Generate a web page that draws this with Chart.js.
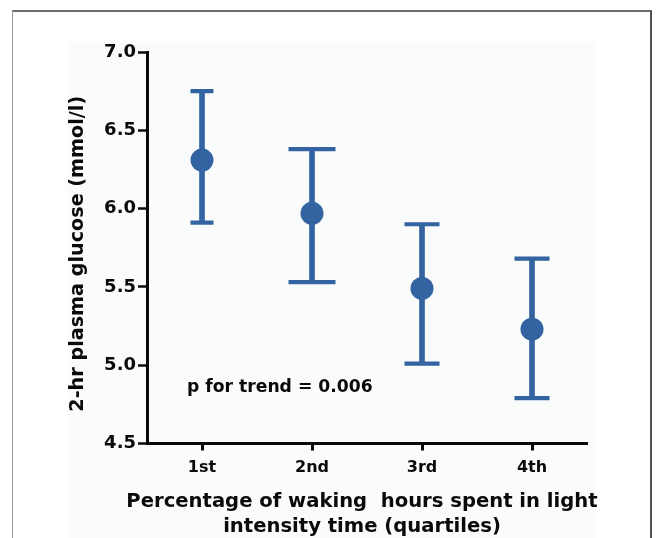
<!DOCTYPE html>
<html>
<head>
<meta charset="utf-8">
<script src="https://cdn.jsdelivr.net/npm/chart.js@4"></script>
<style>
  html, body { margin: 0; padding: 0; background: #fff; }
  #wrap { position: relative; width: 656px; height: 538px; overflow: hidden; }
  #panel { position: absolute; left: 67px; top: 42px; width: 529px; height: 500px; background: #fafbfb; }
  #frame { position: absolute; left: 12px; top: 10px; width: 637px; height: 600px;
           border-top: 2px solid #6c6c6c; border-right: 2px solid #505050; border-left: 1px solid #9a9a9a; }
  #chart { position: absolute; left: 0; top: 0; }
</style>
</head>
<body>
<div id="wrap">
  <div id="panel"></div>
  <div id="frame"></div>
  <canvas id="chart" width="656" height="538"></canvas>
</div>
<script>
// quartiles of light intensity time
const quartiles = ['1st', '2nd', '3rd', '4th'];
// 2-hr plasma glucose (mmol/l), mean with upper / lower error bar ends
const means = [6.31, 5.97, 5.49, 5.23];
const upper = [6.75, 6.38, 5.90, 5.68];
const lower = [5.91, 5.53, 5.01, 4.79];
const yTicks = [4.5, 5.0, 5.5, 6.0, 6.5, 7.0];
const xTitle = ['Percentage of waking  hours spent in light', 'intensity time (quartiles)'];
const yTitle = '2-hr plasma glucose (mmol/l)';
const trendText = 'p for trend = 0.006';

const blue = '#3363a1';
const ink = '#0a0a0a';
const capHalfWidths = [11.5, 23.5, 17.5, 17.5];
const fontFamily = '"DejaVu Sans", sans-serif';

// p-value note and both axis titles (scale titles get squeezed / can't be nudged)
const extraText = {
  id: 'extraText',
  afterDraw(chart) {
    const ctx = chart.ctx;
    const area = chart.chartArea;
    ctx.save();
    ctx.fillStyle = ink;
    ctx.textBaseline = 'middle';

    ctx.font = 'bold 17.2px ' + fontFamily;
    ctx.textAlign = 'left';
    ctx.fillText(trendText, area.left + 40, chart.scales.y.getPixelForValue(4.86));

    ctx.font = 'bold 19.6px ' + fontFamily;
    ctx.textAlign = 'center';
    const cx = (area.left + area.right) / 2 - 5;
    xTitle.forEach((line, i) => {
      ctx.fillText(line, cx, area.bottom + 58 + i * 25);
    });

    ctx.font = 'bold 19.2px ' + fontFamily;
    ctx.translate(area.left - 69, (area.top + area.bottom) / 2 + 6);
    ctx.rotate(-Math.PI / 2);
    ctx.fillText(yTitle, 0, 0);
    ctx.restore();
  }
};

var ctx = document.getElementById('chart').getContext('2d');
var chart = new Chart(ctx, {
  type: 'line',
  data: {
    labels: quartiles,
    datasets: [
      {
        // mean markers
        data: means,
        showLine: false,
        pointStyle: 'circle',
        pointRadius: 11.5,
        pointBackgroundColor: blue,
        pointBorderColor: blue,
        pointBorderWidth: 0,
        order: 0
      },
      {
        // top caps
        data: upper,
        showLine: false,
        pointStyle: 'line',
        pointRadius: capHalfWidths,
        pointBorderColor: blue,
        pointBorderWidth: 4.2,
        order: 1
      },
      {
        // bottom caps
        data: lower,
        showLine: false,
        pointStyle: 'line',
        pointRadius: capHalfWidths,
        pointBorderColor: blue,
        pointBorderWidth: 4.2,
        order: 1
      },
      {
        // vertical whiskers
        type: 'bar',
        data: lower.map((lo, i) => [lo, upper[i]]),
        backgroundColor: blue,
        borderWidth: 0,
        barThickness: 5,
        order: 2
      }
    ]
  },
  options: {
    responsive: false,
    animation: false,
    events: [],
    layout: { padding: { left: 0, right: 69, top: 52, bottom: 0 } },
    plugins: { legend: { display: false }, tooltip: { enabled: false } },
    scales: {
      x: {
        type: 'category',
        offset: true,
        afterFit(scale) { scale.height = 94.5; },
        grid: { display: true, offset: false, drawOnChartArea: false, tickLength: 7, tickWidth: 3, tickColor: ink },
        border: { display: true, color: ink, width: 3 },
        ticks: { color: ink, padding: 8, font: { family: fontFamily, size: 16, weight: 'bold' } },
        title: { display: false }
      },
      y: {
        min: 4.5,
        max: 7.0,
        afterFit(scale) { scale.width = 147; },
        afterBuildTicks(scale) { scale.ticks = yTicks.map(v => ({ value: v })); },
        grid: { display: true, drawOnChartArea: false, tickLength: 9, tickWidth: 2.5, tickColor: ink },
        border: { display: true, color: ink, width: 3 },
        ticks: {
          color: ink,
          padding: 2,
          font: { family: fontFamily, size: 18, weight: 'bold' },
          callback: (v) => Number(v).toFixed(1)
        },
        title: { display: false }
      }
    }
  },
  plugins: [extraText]
});
</script>
</body>
</html>
